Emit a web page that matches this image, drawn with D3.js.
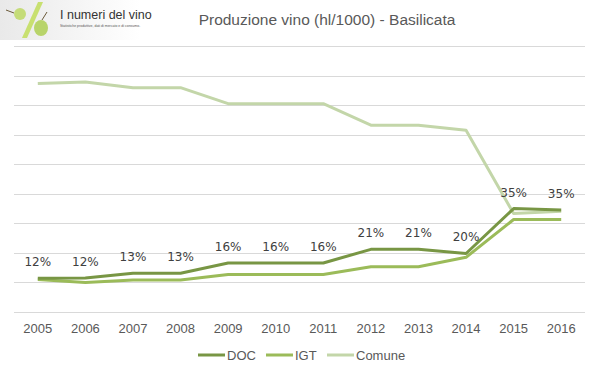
<!DOCTYPE html>
<html>
<head>
<meta charset="utf-8">
<script src="https://cdn.jsdelivr.net/npm/d3@7"></script>
<style>
  body { margin: 0; background: #fff; }
  text { font-family: "Liberation Sans", Arial, sans-serif; }
</style>
</head>
<body>
<svg id="graph" width="599" height="378"></svg>
<script>
// chart data (hl/1000)
var years = ["2005", "2006", "2007", "2008", "2009", "2010", "2011", "2012", "2013", "2014", "2015", "2016"];
var doc = [11.4, 11.5, 13.1, 13.1, 16.6, 16.6, 16.6, 21.2, 21.2, 19.8, 35.0, 34.5];
var igt = [11.0, 10.0, 10.8, 10.8, 12.7, 12.7, 12.7, 15.3, 15.3, 18.5, 31.3, 31.3];
var comune = [77.3, 77.8, 75.9, 75.9, 70.5, 70.5, 70.5, 63.2, 63.2, 61.5, 33.3, 34.1];
var docShare = ["12%", "12%", "13%", "13%", "16%", "16%", "16%", "21%", "21%", "20%", "35%", "35%"];
var seriesNames = ["DOC", "IGT", "Comune"];
var colors = ["#789644", "#9bbb59", "#c3d6a9"];

var svg = d3.select("#graph");

var margin = { top: 46, right: 14, bottom: 66, left: 14 },
  width = 599 - margin.left - margin.right,
  height = 378 - margin.top - margin.bottom;

var x = d3.scaleBand().domain(years).range([0, width]);
var y = d3.scaleLinear().domain([0, 90]).range([height, 0]);

var g = svg.append("g").attr("transform", "translate(" + margin.left + "," + margin.top + ")");

// gridlines
g.append("g")
  .selectAll("line")
  .data(y.ticks(9))
  .enter()
  .append("line")
  .attr("x1", 0)
  .attr("x2", width)
  .attr("y1", function (d) { return Math.round(y(d)) + 0.5; })
  .attr("y2", function (d) { return Math.round(y(d)) + 0.5; })
  .attr("stroke", "#d9d9d9")
  .attr("stroke-width", 1);

// x axis
var xAxis = g.append("g")
  .attr("transform", "translate(0," + height + ")")
  .call(d3.axisBottom(x).tickSize(0).tickPadding(12));
xAxis.select(".domain").remove();
xAxis.selectAll("text")
  .style("font-family", "Liberation Sans, Arial, sans-serif")
  .style("font-size", "13px")
  .attr("fill", "#595959");

var line = d3.line()
  .x(function (d, i) { return x(years[i]) + x.bandwidth() / 2; })
  .y(function (d) { return y(d); });

var allSeries = [doc, igt, comune];

// draw comune first, then igt, then doc on top
[2, 1, 0].forEach(function (k) {
  g.append("path")
    .datum(allSeries[k])
    .attr("d", line)
    .attr("fill", "none")
    .attr("stroke", colors[k])
    .attr("stroke-width", 3)
    .attr("stroke-linejoin", "round");
});

// data labels on DOC
g.append("g")
  .selectAll("text")
  .data(doc)
  .enter()
  .append("text")
  .attr("x", function (d, i) { return x(years[i]) + x.bandwidth() / 2; })
  .attr("y", function (d) { return y(d) - 12; })
  .attr("text-anchor", "middle")
  .style("font-family", "DejaVu Sans, Verdana, sans-serif")
  .style("font-size", "12px")
  .attr("fill", "#404040")
  .text(function (d, i) { return docShare[i]; });

// title
svg.append("text")
  .attr("x", 327)
  .attr("y", 25)
  .attr("text-anchor", "middle")
  .style("font-size", "15.5px")
  .attr("fill", "#595959")
  .text("Produzione vino (hl/1000) - Basilicata");

// legend
var legend = svg.append("g").attr("transform", "translate(198,355)");
var legendX = [0, 68, 129];
seriesNames.forEach(function (name, k) {
  legend.append("line")
    .attr("x1", legendX[k])
    .attr("x2", legendX[k] + 27)
    .attr("y1", 0)
    .attr("y2", 0)
    .attr("stroke", colors[k])
    .attr("stroke-width", 3);
  legend.append("text")
    .attr("x", legendX[k] + 29)
    .attr("y", 4.5)
    .style("font-size", "13px")
    .attr("fill", "#595959")
    .text(name);
});

// logo in the corner
var defs = svg.append("defs");
var grad = defs.append("linearGradient").attr("id", "logoBg").attr("x1", 0).attr("x2", 1);
grad.append("stop").attr("offset", "0%").attr("stop-color", "#e9e9e9");
grad.append("stop").attr("offset", "60%").attr("stop-color", "#f6f6f6");
grad.append("stop").attr("offset", "100%").attr("stop-color", "#ffffff");
var logo = svg.append("g");
logo.append("rect").attr("width", 140).attr("height", 40).attr("fill", "url(#logoBg)");
logo.append("path")
  .attr("d", "M38,2 L43,2 L27,38 L22,38 Z")
  .attr("fill", "#c8e070");
logo.append("circle").attr("cx", 20).attr("cy", 14).attr("r", 6).attr("fill", "#c5dc78");
logo.append("line").attr("x1", 6).attr("y1", 10).attr("x2", 14).attr("y2", 13).attr("stroke", "#6b5a3a").attr("stroke-width", 1);
logo.append("ellipse").attr("cx", 41).attr("cy", 28).attr("rx", 7).attr("ry", 8).attr("fill", "#b8d46a");
logo.append("line").attr("x1", 42).attr("y1", 20).attr("x2", 47).attr("y2", 12).attr("stroke", "#6b5a3a").attr("stroke-width", 1);
logo.append("text")
  .attr("x", 60)
  .attr("y", 19)
  .style("font-size", "12.5px")
  .attr("fill", "#333")
  .text("I numeri del vino");
logo.append("text")
  .attr("x", 60)
  .attr("y", 27)
  .style("font-size", "3.5px")
  .attr("fill", "#555")
  .text("Statistiche produttive, dati di mercato e di consumo.");
</script>
</body>
</html>
